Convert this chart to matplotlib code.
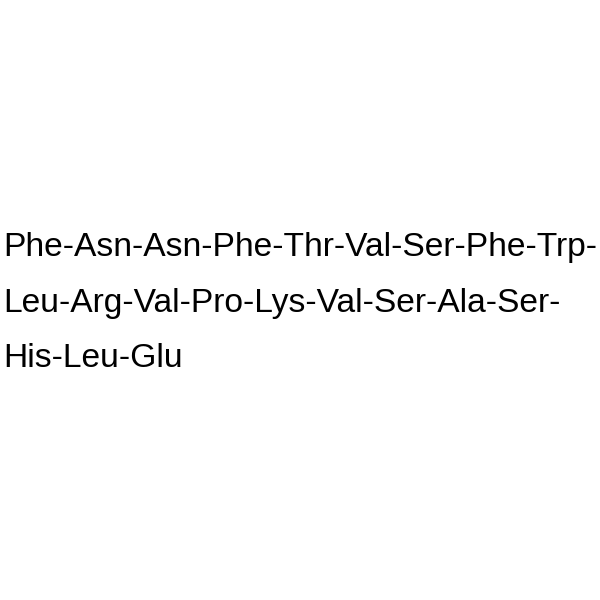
import matplotlib
matplotlib.use("Agg")
import matplotlib.pyplot as plt

# peptide sequence, split across three lines as in the picture
seq_lines = [
    "Phe-Asn-Asn-Phe-Thr-Val-Ser-Phe-Trp-",
    "Leu-Arg-Val-Pro-Lys-Val-Ser-Ala-Ser-",
    "His-Leu-Glu",
]
baselines_px = [256, 312, 367]

fig = plt.figure(figsize=(6, 6), dpi=100)
fig.patch.set_facecolor("white")

for line, y in zip(seq_lines, baselines_px):
    fig.text(3 / 600, 1 - y / 600, line, ha="left", va="baseline",
             fontsize=24.2, family="Liberation Sans", color="black")

fig.savefig("out.png", dpi=100, facecolor="white")
